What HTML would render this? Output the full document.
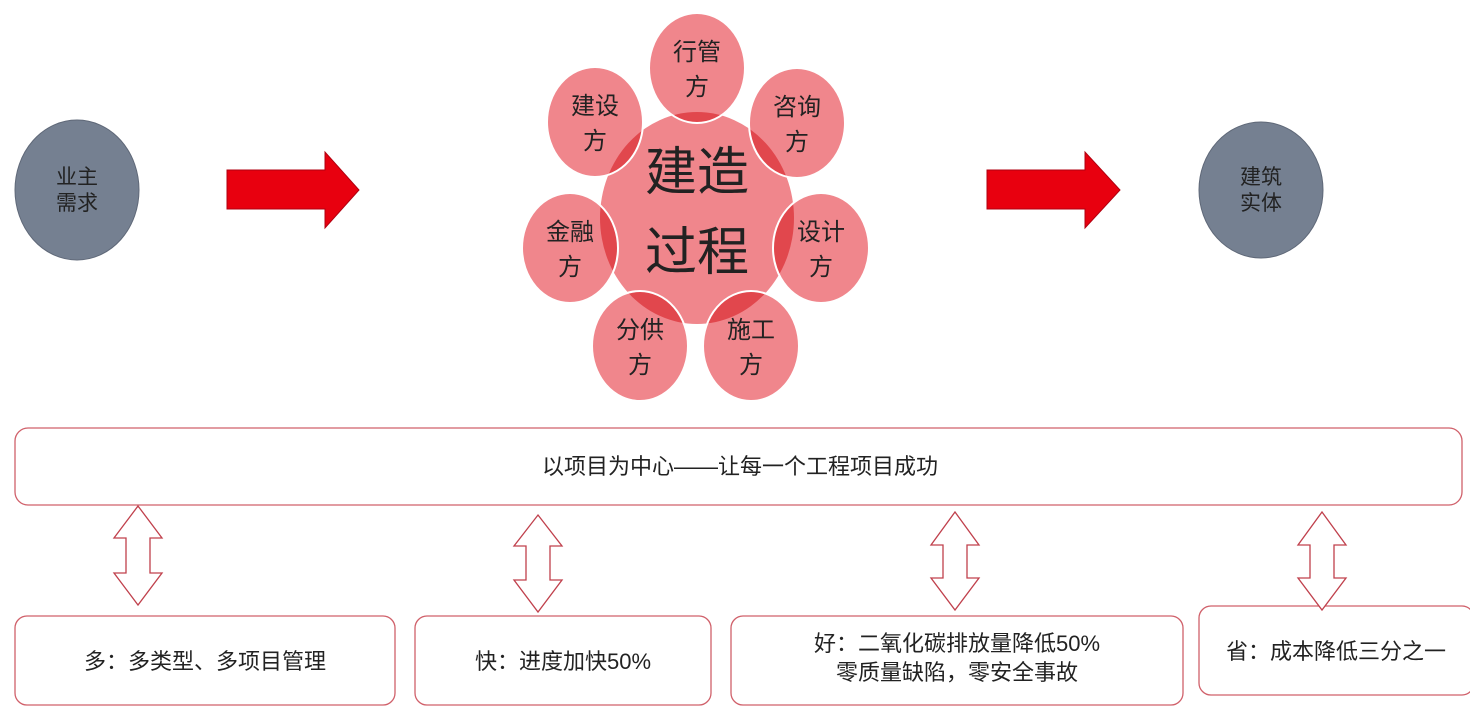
<!DOCTYPE html>
<html><head><meta charset="utf-8"><style>
html,body{margin:0;padding:0;background:#fff;width:1470px;height:711px;overflow:hidden}
svg text{font-family:"Liberation Sans","Noto Sans CJK SC",sans-serif;fill:#222}
</style></head><body>
<svg width="1470" height="711" viewBox="0 0 1470 711" xmlns="http://www.w3.org/2000/svg">
<ellipse cx="77" cy="190" rx="62" ry="70" fill="#758091" stroke="#5f6878" stroke-width="1"/>
<text x="77" y="184" font-size="21" text-anchor="middle">业主</text>
<text x="77" y="210" font-size="21" text-anchor="middle">需求</text>
<ellipse cx="1261" cy="190" rx="62" ry="68" fill="#758091" stroke="#5f6878" stroke-width="1"/>
<text x="1261" y="184" font-size="21" text-anchor="middle">建筑</text>
<text x="1261" y="210" font-size="21" text-anchor="middle">实体</text>
<polygon points="227,170 325,170 325,152 359,190 325,228 325,209 227,209" fill="#e8000f" stroke="#b00010" stroke-width="1"/>
<polygon points="987,170 1085,170 1085,152 1120,190 1085,228 1085,209 987,209" fill="#e8000f" stroke="#b00010" stroke-width="1"/>
<g>
<ellipse cx="697" cy="218" rx="97" ry="106" fill="#f0868c"/>
<g style="mix-blend-mode:multiply">
<ellipse cx="697" cy="68" rx="48" ry="55" fill="#f0868c"/>
<ellipse cx="595" cy="122" rx="48" ry="55" fill="#f0868c"/>
<ellipse cx="797" cy="123" rx="48" ry="55" fill="#f0868c"/>
<ellipse cx="570" cy="248" rx="48" ry="55" fill="#f0868c"/>
<ellipse cx="821" cy="248" rx="48" ry="55" fill="#f0868c"/>
<ellipse cx="640" cy="346" rx="48" ry="55" fill="#f0868c"/>
<ellipse cx="751" cy="346" rx="48" ry="55" fill="#f0868c"/>
</g>
<g fill="none" stroke="#fff" stroke-width="2">
<ellipse cx="697" cy="68" rx="48" ry="55"/>
<ellipse cx="595" cy="122" rx="48" ry="55"/>
<ellipse cx="797" cy="123" rx="48" ry="55"/>
<ellipse cx="570" cy="248" rx="48" ry="55"/>
<ellipse cx="821" cy="248" rx="48" ry="55"/>
<ellipse cx="640" cy="346" rx="48" ry="55"/>
<ellipse cx="751" cy="346" rx="48" ry="55"/>
</g>
</g>
<text x="697" y="190" font-size="52" text-anchor="middle">建造</text>
<text x="697" y="270" font-size="52" text-anchor="middle">过程</text>
<g font-size="24" text-anchor="middle">
<text x="697" y="60">行管</text><text x="697" y="95">方</text>
<text x="595" y="114">建设</text><text x="595" y="149">方</text>
<text x="797" y="115">咨询</text><text x="797" y="150">方</text>
<text x="570" y="240">金融</text><text x="570" y="275">方</text>
<text x="821" y="240">设计</text><text x="821" y="275">方</text>
<text x="640" y="338">分供</text><text x="640" y="373">方</text>
<text x="751" y="338">施工</text><text x="751" y="373">方</text>
</g>
<g fill="#fff" stroke="#d0606a" stroke-width="1.3">
<rect x="15" y="428" width="1447" height="77" rx="13"/>
<rect x="15" y="616" width="380" height="89" rx="12"/>
<rect x="415" y="616" width="296" height="89" rx="12"/>
<rect x="731" y="616" width="452" height="89" rx="12"/>
<rect x="1199" y="606" width="275" height="89" rx="12"/>
</g>
<g font-size="22" text-anchor="middle">
<text x="740" y="474">以项目为中心——让每一个工程项目成功</text>
<text x="205" y="669">多：多类型、多项目管理</text>
<text x="563" y="669">快：进度加快50%</text>
<text x="957" y="651">好：二氧化碳排放量降低50%</text>
<text x="957" y="680">零质量缺陷，零安全事故</text>
<text x="1336" y="659">省：成本降低三分之一</text>
</g>
<g fill="#fff" stroke="#c0404c" stroke-width="1.3">
<polygon points="138,506 162,538 150,538 150,573 162,573 138,605 114,573 126,573 126,538 114,538"/>
<polygon points="538,515 562,546 550,546 550,580 562,580 538,612 514,580 526,580 526,546 514,546"/>
<polygon points="955,512 979,545 967,545 967,578 979,578 955,610 931,578 943,578 943,545 931,545"/>
<polygon points="1322,512 1346,545 1334,545 1334,578 1346,578 1322,610 1298,578 1310,578 1310,545 1298,545"/>
</g>
</svg>
</body></html>
